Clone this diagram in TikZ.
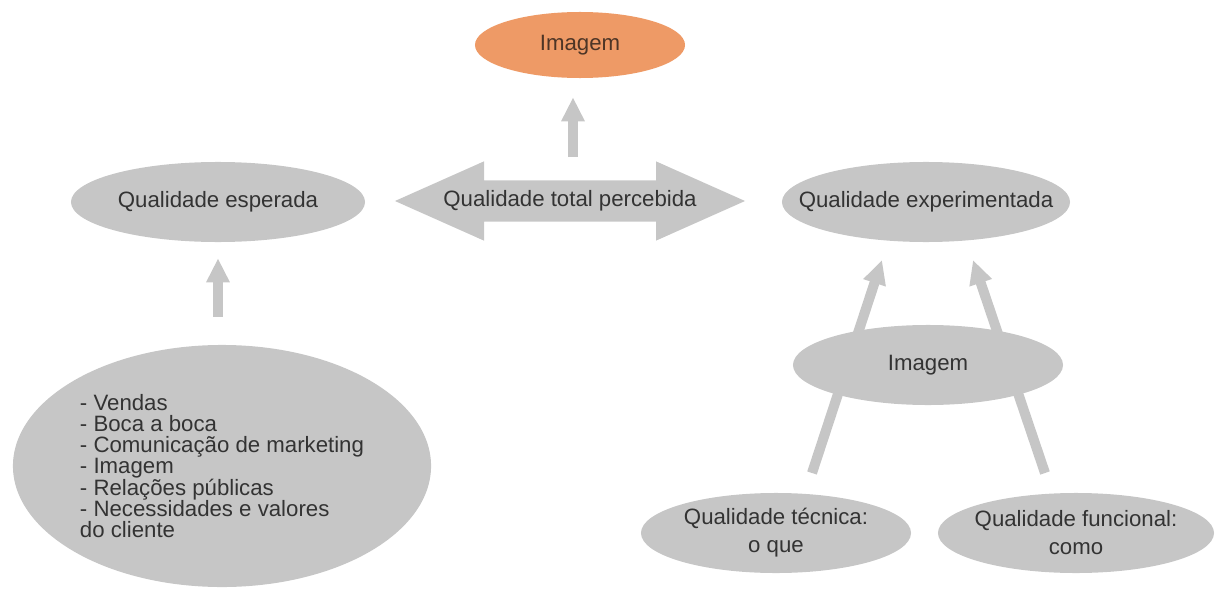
\documentclass[tikz,border=0pt]{standalone}
\usepackage{fontspec}
\setmainfont{Liberation Sans}
\usepackage{xcolor}
\usetikzlibrary{shapes.geometric, shapes.arrows, arrows.meta, backgrounds}

\definecolor{bubblegray}{HTML}{C6C6C6}
\definecolor{imgorange}{HTML}{EE9A66}
\definecolor{labeltext}{HTML}{333333}
\definecolor{orangetext}{HTML}{4D3526}

\begin{document}
\begin{tikzpicture}[
    x=0.025cm, y=-0.025cm,
    bubble/.style={ellipse, fill=bubblegray, inner xsep=-2cm, inner ysep=-1cm,
      align=center, text=labeltext, font=\fontsize{15.8}{19.9}\selectfont},
    listbubble/.style={bubble, align=left, font=\fontsize{15.8}{15.1}\selectfont},
    bigarrow/.style={double arrow, fill=bubblegray, text=labeltext,
      font=\fontsize{15.8}{18}\selectfont, minimum height=8.75cm,
      inner xsep=0pt, inner ysep=0.25cm, double arrow head extend=0.475cm,
      double arrow tip angle=48, double arrow head indent=0pt},
    fat/.style={draw=bubblegray, line width=0.25cm,
      -{Triangle[length=0.6cm, width=0.55cm]}}
]
\useasboundingbox (0,0) rectangle (1218,591);

\node (imgtop) [bubble, fill=imgorange, text=orangetext,
  minimum width=5.25cm, minimum height=1.65cm] at (580,45) {Imagem};
\node (esperada) [bubble, minimum width=7.35cm, minimum height=2cm] at (218,202) {Qualidade esperada};
\node (total) [bigarrow] at (570,201) {Qualidade total percebida};
\node (experimentada) [bubble, minimum width=7.2cm, minimum height=2cm] at (926,202) {Qualidade experimentada};
\node (fontes) [listbubble, minimum width=10.45cm, minimum height=6.05cm] at (222,466)
  {- Vendas\\- Boca a boca\\- Comunicação de marketing\\- Imagem\\- Relações públicas\\- Necessidades e valores\\do cliente};
\node (imgmid) [bubble, minimum width=6.75cm, minimum height=2cm] at (928,365) {Imagem};
\node (tecnica) [bubble, minimum width=6.75cm, minimum height=2cm] at (776,533) {Qualidade técnica:\\o que};
\node (funcional) [bubble, minimum width=6.9cm, minimum height=2cm] at (1076,533) {Qualidade funcional:\\como};

\coordinate (imgbase) at (573,157);
\coordinate (techfoot) at (812,473);
\coordinate (techtip) at (882,260);
\coordinate (funcfoot) at (1045,473);
\coordinate (functip) at (973,260);

\draw[fat, shorten >=0.475cm] (imgbase) -- (imgbase |- imgtop.south);
\draw[fat, shorten <=0.7cm, shorten >=0.4cm] (fontes.north -| esperada) -- (esperada);
\begin{scope}[on background layer]
  \draw[fat] (techfoot) -- (techtip);
  \draw[fat] (funcfoot) -- (functip);
\end{scope}
\end{tikzpicture}
\end{document}
